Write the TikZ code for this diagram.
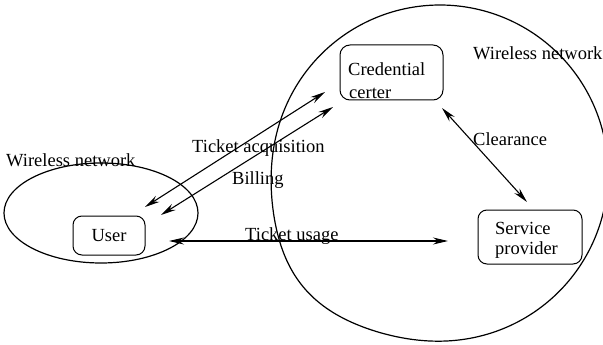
\documentclass[tikz,border=0pt]{standalone}
\usepackage{fontspec}
\setmainfont{Liberation Serif}
\usetikzlibrary{arrows.meta}
\begin{document}
\begin{tikzpicture}[x=1pt,y=-1pt,
  lbl/.style={anchor=base west, inner sep=0pt, font=\fontsize{18.5}{22}\selectfont},
  box/.style={draw, line width=1pt, rounded corners=9pt, inner sep=0pt,
              font=\fontsize{18.5}{22}\selectfont},
  net/.style={draw, line width=1.2pt},
  tip/.tip={Stealth[length=15pt,width=7pt,inset=5pt]},
  link/.style={line width=1.1pt, tip-tip}]
\useasboundingbox (0,0) rectangle (603,345);
\clip (0,0) rectangle (603,345);

% the two wireless networks; the right one is slightly egg-shaped,
% bulging towards the lower left
\draw[net] (101,213) ellipse [x radius=97pt, y radius=50pt];
\draw[net] plot[domain=0:360, samples=145, smooth, variable=\t]
  ({440+(168+10*exp(-((\t-140)/25)^2))*cos(\t)},
   {173+(168+10*exp(-((\t-140)/25)^2))*sin(\t)}) -- cycle;

% parties
\node[box, minimum width=72pt, minimum height=39pt] (user) at (109,235.5) {User};
\node[box, minimum width=103pt, minimum height=55pt, rounded corners=10pt] (cc) at (391.5,72.5) {};
\node[lbl] (cc1) at (348,76) {Credential};
\node[lbl] (cc2) at (349,99) {certer};
\node[box, minimum width=104pt, minimum height=54pt] (sp) at (530,237) {};
\node[lbl] (sp1) at (495,234) {Service};
\node[lbl] (sp2) at (495,254) {provider};

% labels
\node[lbl] (wnl) at (6,166) {Wireless network};
\node[lbl] (wnr) at (473,60) {Wireless network};
\node[lbl] (ta) at (192,152) {Ticket acquisition};
\node[lbl] (bi) at (232,184) {Billing};
\node[lbl] (tu) at (245,240) {Ticket usage};
\node[lbl] (cl) at (473,146) {Clearance};

% connector ends
\coordinate (taU) at (145,207);
\coordinate (taC) at (325,92);
\coordinate (biU) at (161,215);
\coordinate (biC) at (333,107);
\coordinate (tuU) at (169,241);
\coordinate (tuS) at (448,241);
\coordinate (clC) at (442,108);
\coordinate (clS) at (527,202);

\draw[link] (taU) -- (taC);
\draw[link] (biU) -- (biC);
\draw[link] (tuU) -- (tuS);
\draw[link] (clC) -- (clS);
\end{tikzpicture}
\end{document}
